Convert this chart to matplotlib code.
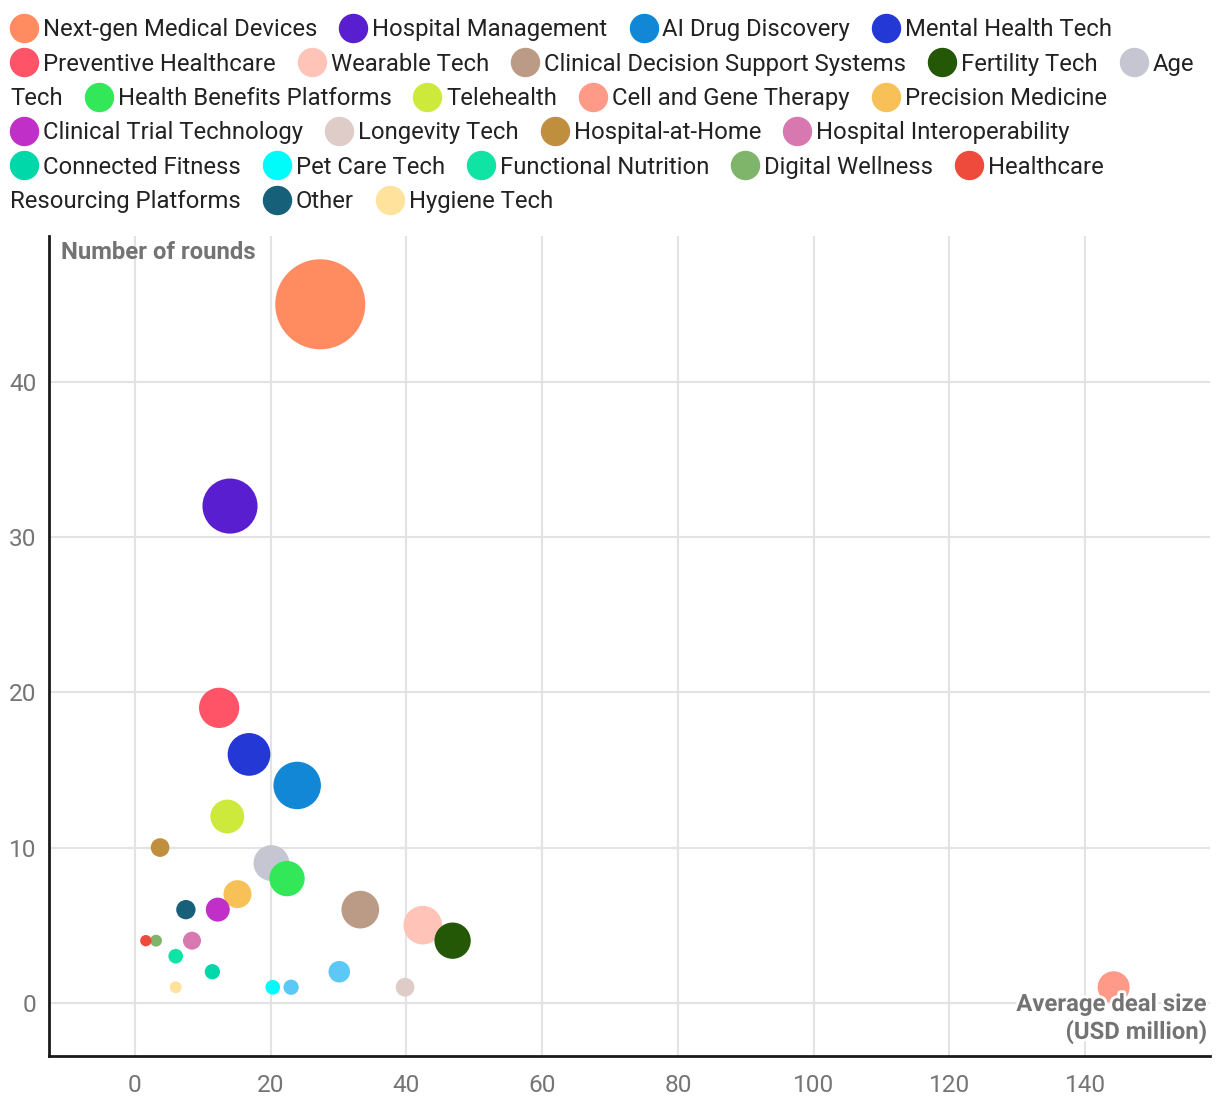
import numpy as np
import matplotlib
matplotlib.use("Agg")
from matplotlib import pyplot as plt
from matplotlib.lines import Line2D
from matplotlib.font_manager import FontProperties
import matplotlib.patheffects as pe

plt.rcParams['font.family'] = ['Roboto', 'DejaVu Sans']

############ Data #########################

categories = [
    'Next-gen Medical Devices', 'Hospital Management', 'AI Drug Discovery',
    'Mental Health Tech', 'Preventive Healthcare', 'Wearable Tech',
    'Clinical Decision Support Systems', 'Fertility Tech', 'Age Tech',
    'Health Benefits Platforms', 'Telehealth', 'Cell and Gene Therapy',
    'Precision Medicine', 'Clinical Trial Technology', 'Longevity Tech',
    'Hospital-at-Home', 'Hospital Interoperability', 'Connected Fitness',
    'Pet Care Tech', 'Functional Nutrition', 'Digital Wellness',
    'Healthcare Resourcing Platforms', 'Other', 'Hygiene Tech',
    None, None,  # two light-blue bubbles that have no legend entry
]
avg_deal = [27.3, 14.0, 23.9, 16.8, 12.4, 42.4, 33.2, 46.8, 20.1, 22.4, 13.6,
            144.2, 15.1, 12.2, 39.8, 3.7, 8.4, 11.4, 20.3, 6.0, 3.1, 1.6, 7.5,
            6.0, 23.0, 30.1]
rounds = [45, 32, 14, 16, 19, 5, 6, 4, 9, 8, 12, 1, 7, 6, 1, 10, 4, 2, 1, 3,
          4, 4, 6, 1, 1, 2]
funding = [1230, 420, 300, 235, 205, 185, 175, 160, 155, 150, 135, 118, 84,
           56, 28, 28, 25, 15, 13, 13, 6, 5, 31, 6, 15, 42]
colors = ['#ff8c61', '#591ecf', '#1287d5', '#2438d6', '#ff5468', '#ffc3b7',
          '#bb9b86', '#245706', '#c5c6d1', '#33e858', '#cdea3c', '#ff9a88',
          '#f7c157', '#c030c8', '#dfcbc7', '#bf8f3e', '#d878b0', '#00d8aa',
          '#00fbfb', '#10e4a4', '#7eb56a', '#ee4b3c', '#17607a', '#ffe29b',
          '#5bc8f5', '#5bc8f5']

x_ticks = [0, 20, 40, 60, 80, 100, 120, 140]
y_ticks = [0, 10, 20, 30, 40]

############ Figure #########################

W, H = 1220, 1108
fig = plt.figure(figsize=(W / 100, H / 100), dpi=100)
ax = fig.add_axes([49 / W, 1 - 1056 / H, (1210 - 49) / W, (1056 - 236) / H])

# bubble radius in pixels grows with sqrt of total funding
radius = 3 + 42 * np.sqrt(np.array(funding) / max(funding))
sizes = (2 * radius * 0.72) ** 2
ax.scatter(avg_deal, rounds, s=sizes, c=colors, linewidths=0, zorder=3)

ax.set_xlim(-12.67, 158.4)
ax.set_ylim(-3.43, 49.4)
ax.set_xticks(x_ticks)
ax.set_yticks(y_ticks)
ax.grid(True, color='#e3e3e3', linewidth=1.5, zorder=0)
ax.set_axisbelow(True)
for side in ['top', 'right']:
    ax.spines[side].set_visible(False)
for side in ['left', 'bottom']:
    ax.spines[side].set_linewidth(2)
    ax.spines[side].set_color('#1a1a1a')
ax.tick_params(axis='x', length=0, pad=13, labelsize=17.6, labelcolor='#757575')
ax.tick_params(axis='y', length=0, pad=9, labelsize=17.6, labelcolor='#757575')

ax.annotate('Number of rounds', xy=(0, 1), xycoords='axes fraction',
            xytext=(12, -5), textcoords='offset pixels', ha='left', va='top',
            fontsize=17.2, fontweight='bold', color='#737373')
ax.annotate('Average deal size\n(USD million)', xy=(1, 0), xycoords='axes fraction',
            xytext=(-3, 63), textcoords='offset pixels', ha='right', va='top',
            fontsize=17.2, fontweight='bold', color='#737373', linespacing=1.2,
            path_effects=[pe.withStroke(linewidth=4, foreground='white')], zorder=5)

############ Legend (flowing, wraps words) #########################

renderer = fig.canvas.get_renderer()
legend_font = FontProperties(family='Roboto', size=17.2)


def text_w(s):
    w, h, d = renderer.get_text_width_height_descent(s, legend_font, ismath=False)
    return w


def put_text(s, px, row):
    fig.text(px / W, 1 - (27.8 + 34.4 * row + 8.5) / H, s, fontproperties=legend_font,
             color='#222222', ha='left', va='baseline')


right_limit = 1210
x, row = 10, 0
for name, color in zip(categories, colors):
    if name is None:
        continue
    words = name.split()
    if x > 10 and x + 33 + text_w(words[0]) > right_limit:
        row += 1
        x = 10
    fig.add_artist(Line2D([(x + 14) / W], [1 - (27.8 + 34.4 * row) / H], marker='o',
                          markersize=28 * 0.72, color=color, linewidth=0,
                          transform=fig.transFigure))
    tx = x + 33
    line_words = []
    for w in words:
        trial = ' '.join(line_words + [w])
        if line_words and tx + text_w(trial) > right_limit:
            put_text(' '.join(line_words), tx, row)
            row += 1
            tx = 10
            line_words = [w]
        else:
            line_words.append(w)
    put_text(' '.join(line_words), tx, row)
    x = tx + text_w(' '.join(line_words)) + 22

fig.savefig('out.png', dpi=100)
